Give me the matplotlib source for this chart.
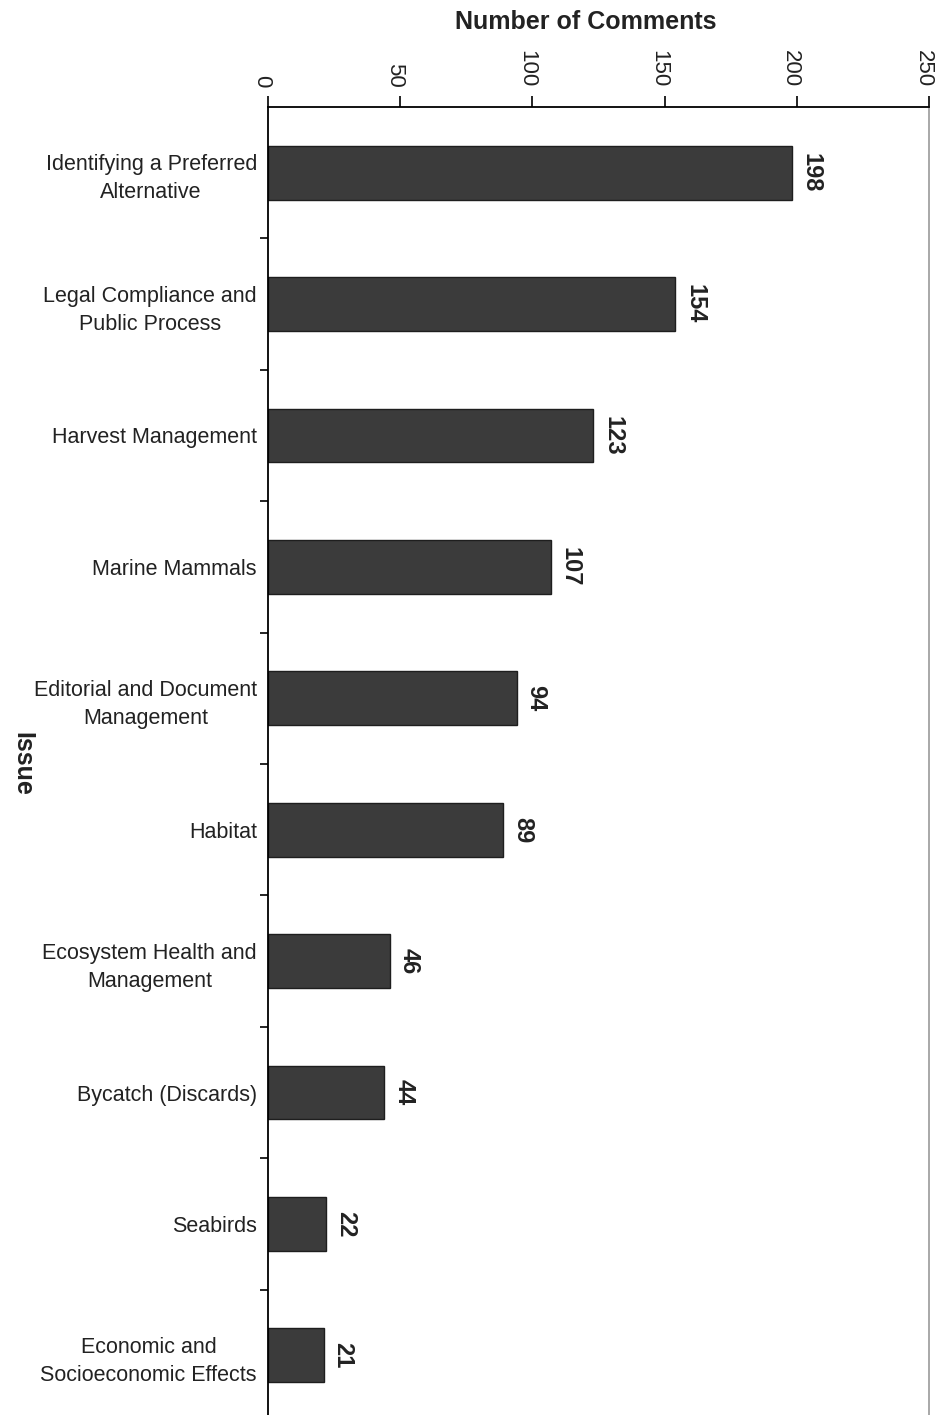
import numpy as np
import matplotlib
matplotlib.use("Agg")
import matplotlib.pyplot as plt
from matplotlib.transforms import ScaledTranslation

issues = [
    "Identifying a Preferred\nAlternative",
    "Legal Compliance and\nPublic Process",
    "Harvest Management",
    "Marine Mammals",
    "Editorial and Document\nManagement",
    "Habitat",
    "Ecosystem Health and\nManagement",
    "Bycatch (Discards)",
    "Seabirds",
    "Economic and\nSocioeconomic Effects",
]
comments = [198, 154, 123, 107, 94, 89, 46, 44, 22, 21]
xticks = [0, 50, 100, 150, 200, 250]

plt.rcParams["font.family"] = ["Liberation Sans", "DejaVu Sans"]

fig = plt.figure(figsize=(9.38, 14.15), dpi=100)
ax = fig.add_axes([0.2857, 0.0, 0.7047, 0.9244])

pos = np.arange(len(issues))
ax.barh(pos, comments, height=0.41, color="#3b3b3b", edgecolor="#1e1e1e",
        linewidth=1.0)

# value labels, turned like the axis numbers
for y, v in zip(pos, comments):
    ax.text(v + 3.0, y, str(v), rotation=-90, ha="left", va="center",
            fontsize=17, fontweight="bold", color="#222222")

ax.set_xlim(0, 250)
ax.set_ylim(9.454, -0.5)

# x axis on top
ax.xaxis.tick_top()
ax.set_xticks(xticks)
ax.set_xticklabels([str(t) for t in xticks], rotation=-90, fontsize=16,
                   color="#222222")
ax.tick_params(axis="x", direction="out", length=8, width=1.2, pad=6)
shift = ScaledTranslation(-6 / 100, 0, fig.dpi_scale_trans)
for lbl in ax.get_xticklabels():
    lbl.set_transform(lbl.get_transform() + shift)
fig.text(586 / 938, 1 - 22 / 1415, "Number of Comments", ha="center",
         va="center", fontsize=18, fontweight="bold", color="#222222")

# issue labels centred on bars, tick marks between categories
ax.set_yticks(pos)
ax.set_yticklabels(issues, fontsize=15.5, color="#222222",
                   multialignment="center", linespacing=1.45)
ax.tick_params(axis="y", which="major", length=0, pad=8)
ax.set_yticks(np.arange(0.5, len(issues) - 0.5), minor=True)
ax.tick_params(axis="y", which="minor", direction="out", length=6, width=1.2)

ax.spines["bottom"].set_visible(False)
ax.spines["top"].set_linewidth(1.3)
ax.spines["left"].set_linewidth(1.3)
ax.spines["right"].set_color("#9a9a9a")
ax.spines["right"].set_linestyle((0, (1, 1)))
ax.spines["right"].set_linewidth(1.2)

fig.text(0.0235, 0.46, "Issue", rotation=-90, ha="center", va="center",
         fontsize=18, fontweight="bold", color="#222222")

fig.savefig("out.png", dpi=100, facecolor="white")
